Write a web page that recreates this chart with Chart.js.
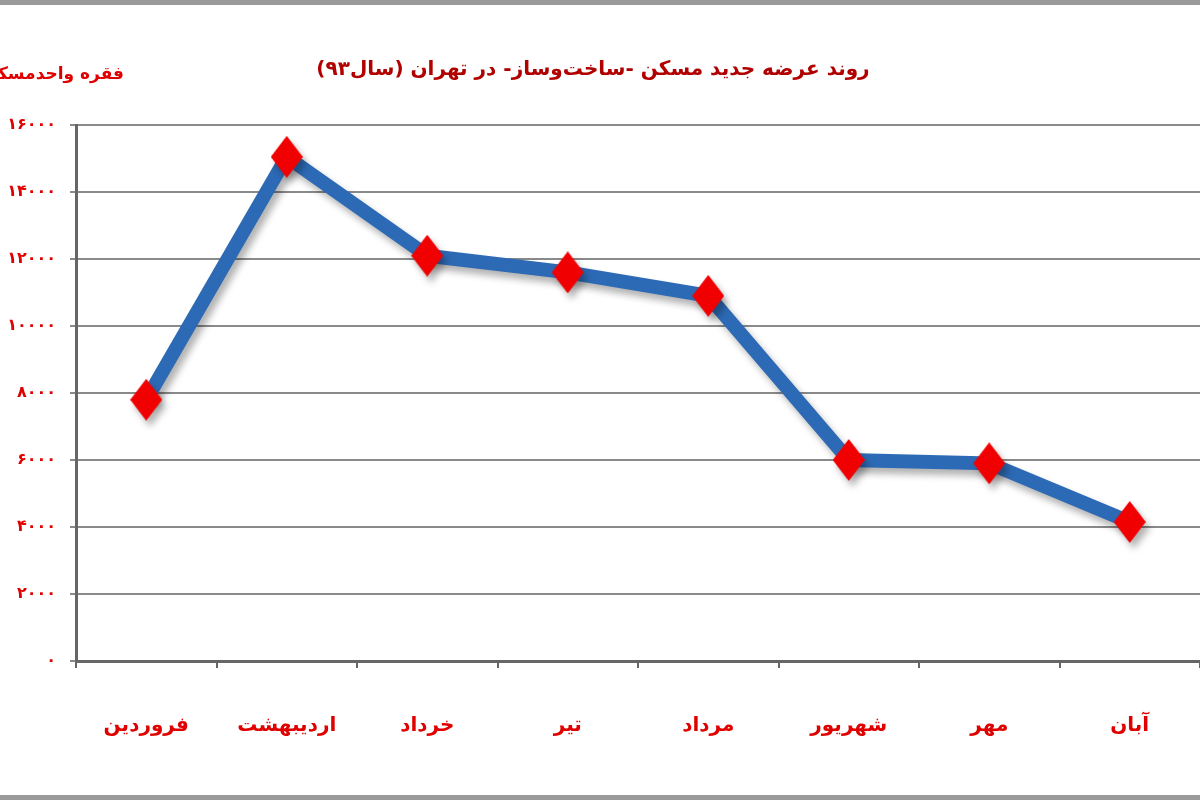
<!DOCTYPE html>
<html lang="fa">
<head>
<meta charset="utf-8">
<style>
  html, body { margin: 0; padding: 0; background: #fff; }
  #wrap { width: 1200px; height: 800px; position: relative; }
</style>
<script src="https://cdn.jsdelivr.net/npm/chart.js@4.4.0/dist/chart.umd.min.js"></script>
</head>
<body>
<div id="wrap"><canvas id="supplyChart" width="1200" height="800"></canvas></div>
<script>
// داده‌ها
const months = ['فروردین', 'اردیبهشت', 'خرداد', 'تیر', 'مرداد', 'شهریور', 'مهر', 'آبان'];
const newUnits = [7800, 15050, 12100, 11600, 10900, 6000, 5900, 4150];
const yMin = 0;
const yMax = 16000;
const yStep = 2000;
const chartTitle = 'روند عرضه جدید مسکن -ساخت‌وساز- در تهران (سال۹۳)';
const yTitle = 'فقره واحدمسکونی';

const faDigits = '۰۱۲۳۴۵۶۷۸۹';
function toFa(n) {
    return String(n).replace(/[0-9]/g, d => faDigits[d]);
}

// marker: diamond taller than wide
const diamond = document.createElement('canvas');
diamond.width = 32;
diamond.height = 42;
(function () {
    const c = diamond.getContext('2d');
    c.fillStyle = '#f00000';
    c.beginPath();
    c.moveTo(16, 0);
    c.lineTo(32, 21);
    c.lineTo(16, 42);
    c.lineTo(0, 21);
    c.closePath();
    c.fill();
})();

const FONT = '"DejaVu Sans", sans-serif';

// frame, title and y axis caption
const decorations = {
    id: 'decorations',
    beforeDraw(chart) {
        const ctx = chart.ctx;
        ctx.save();
        ctx.fillStyle = '#9a9a9a';
        ctx.fillRect(0, 0, chart.width, 5);
        ctx.fillRect(0, chart.height - 5, chart.width, 5);
        ctx.restore();
    },
    afterDraw(chart) {
        const ctx = chart.ctx;
        ctx.save();
        ctx.direction = 'rtl';
        ctx.textBaseline = 'middle';
        ctx.fillStyle = '#b00000';
        ctx.font = 'bold 20px ' + FONT;
        ctx.textAlign = 'center';
        ctx.fillText(chartTitle, 593, 70);
        ctx.fillStyle = '#e00000';
        ctx.font = 'bold 17px ' + FONT;
        ctx.textAlign = 'right';
        ctx.fillText(yTitle, 124, 75);
        ctx.restore();
    }
};

// soft drop shadow under the line and markers
const shadow = {
    id: 'shadow',
    beforeDatasetsDraw(chart) {
        const ctx = chart.ctx;
        ctx.save();
        ctx.shadowColor = 'rgba(0,0,0,0.3)';
        ctx.shadowBlur = 7;
        ctx.shadowOffsetX = 4;
        ctx.shadowOffsetY = 6;
    },
    afterDatasetsDraw(chart) {
        chart.ctx.restore();
    }
};

new Chart(document.getElementById('supplyChart'), {
    type: 'line',
    data: {
        labels: months,
        datasets: [{
            data: newUnits,
            borderColor: '#2d6ab5',
            borderWidth: 14,
            borderJoinStyle: 'miter',
            tension: 0,
            pointStyle: diamond,
            pointRadius: 16,
            pointHoverRadius: 16,
            pointBackgroundColor: '#f00000',
            pointBorderWidth: 0
        }]
    },
    options: {
        responsive: false,
        animation: false,
        events: [],
        layout: { autoPadding: false, padding: { top: 125, left: 0, right: 0, bottom: 0 } },
        plugins: {
            legend: { display: false },
            tooltip: { enabled: false },
            title: { display: false }
        },
        scales: {
            x: {
                offset: true,
                grid: {
                    offset: true,
                    drawOnChartArea: false,
                    drawTicks: true,
                    tickLength: 7,
                    color: '#666',
                    lineWidth: 2
                },
                border: { color: '#666', width: 3 },
                ticks: {
                    color: '#e00000',
                    font: { family: FONT, size: 20, weight: 'bold' },
                    padding: 46,
                    maxRotation: 0
                },
                afterFit(scale) {
                    scale.height = 139;
                    scale.paddingLeft = 0;
                    scale.paddingRight = 0;
                }
            },
            y: {
                min: yMin,
                max: yMax,
                grid: {
                    color: '#8a8a8a',
                    lineWidth: 2,
                    tickLength: 6
                },
                border: { color: '#666', width: 3 },
                ticks: {
                    stepSize: yStep,
                    color: '#e00000',
                    font: { family: FONT, size: 16, weight: 'bold' },
                    padding: 14,
                    callback: v => toFa(v)
                },
                afterFit(scale) {
                    scale.width = 76;
                    scale.paddingTop = 0;
                    scale.paddingBottom = 0;
                }
            }
        }
    },
    plugins: [decorations, shadow]
});
</script>
</body>
</html>
